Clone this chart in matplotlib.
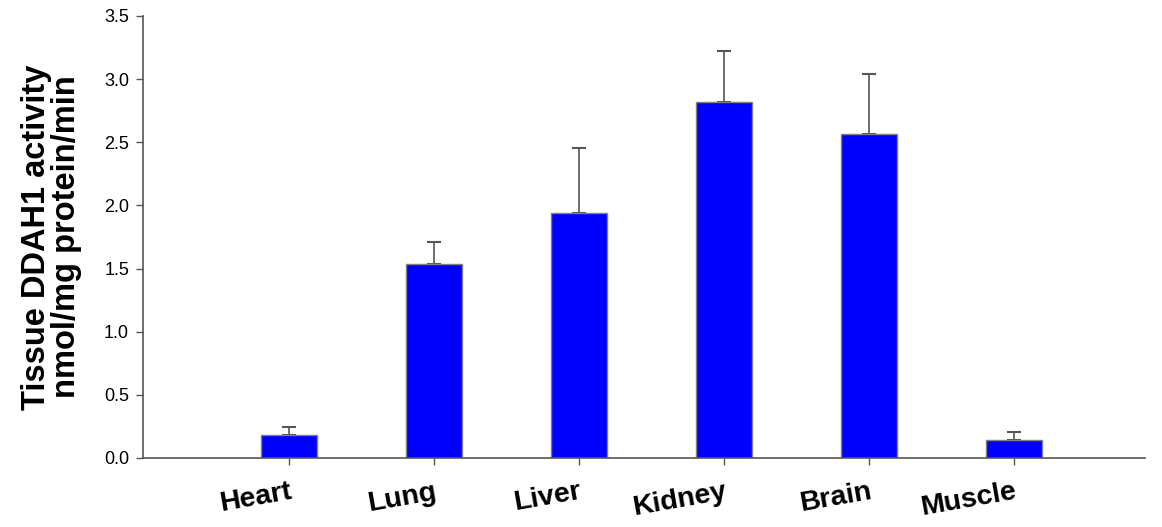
import matplotlib
matplotlib.use("Agg")
import matplotlib.pyplot as plt
import numpy as np

categories = ["Heart", "Lung", "Liver", "Kidney", "Brain", "Muscle"]
values = [0.185, 1.54, 1.94, 2.82, 2.565, 0.145]
errors = [0.063, 0.17, 0.515, 0.40, 0.475, 0.064]
yticks = [0.0, 0.5, 1.0, 1.5, 2.0, 2.5, 3.0, 3.5]

plt.rcParams['font.family'] = ['Liberation Sans', 'DejaVu Sans']

fig = plt.figure(figsize=(11.62, 5.27), dpi=100)
ax = fig.add_axes([143/1162, 1 - 458/527, (1145-143)/1162, (458-16)/527])

x = np.arange(len(categories))
ax.bar(x, values, width=0.39, color='#0000ff', edgecolor='#808080', linewidth=1.0, zorder=2)
ax.errorbar(x, values, yerr=[np.zeros(len(errors)), errors], fmt='none',
            ecolor='#555555', elinewidth=1.2, capsize=5, capthick=1.5, zorder=1)

ax.set_xlim(-1.007, 5.905)
ax.set_ylim(0, 3.5)
ax.set_yticks(yticks)
ax.set_yticklabels([f"{t:.1f}" for t in yticks], fontsize=13)
ax.set_xticks(x)
ax.set_xticklabels(categories, fontsize=20.5, fontweight='bold', rotation=10,
                   ha='right', va='top', rotation_mode='anchor')
for s in ['top', 'right']:
    ax.spines[s].set_visible(False)
for s in ['left', 'bottom']:
    ax.spines[s].set_color('#555555')
    ax.spines[s].set_linewidth(1.2)
ax.tick_params(axis='both', direction='out', length=5, width=1.0, color='#555555')
ax.tick_params(axis='x', pad=10)
ax.tick_params(axis='y', pad=5)

ax.set_ylabel("Tissue DDAH1 activity\nnmol/mg protein/min", fontsize=23.5,
              fontweight='bold', labelpad=16, linespacing=0.95)

fig.savefig("out.png", dpi=100)
